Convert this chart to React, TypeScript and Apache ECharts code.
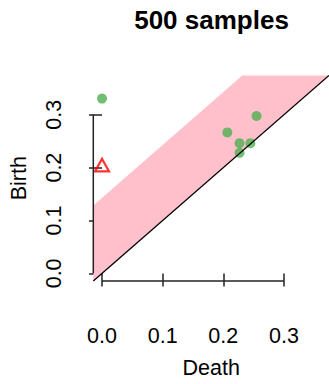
import React, { useEffect, useRef } from "react";
import * as echarts from "echarts";

// Axis range (R's 4% padding around [0, 0.36])
const AXIS_MIN = -0.0144;
const AXIS_MAX = 0.3744;
const tickValues = [0, 0.1, 0.2, 0.3];
const tickLabels = ["0.0", "0.1", "0.2", "0.3"];
const bandWidth = 0.143;

const greenDeath = [0.0, 0.2549, 0.2067, 0.2268, 0.2447, 0.2268];
const greenBirth = [0.3306, 0.2977, 0.2666, 0.2463, 0.2463, 0.228];
const redDeath = [0.0];
const redBirth = [0.201];

const titleText = "500 samples";
const xName = "Death";
const yName = "Birth";

const FONT = "'Liberation Sans', Arial, Helvetica, sans-serif";
const AXIS_COLOR = "#222";

export default function App() {
  const ref = useRef<HTMLDivElement>(null);
  useEffect(() => {
    if (!ref.current) return;
    const chart = echarts.init(ref.current, undefined, { renderer: "svg" });
    const fmt = (v: number) => {
      const i = tickValues.findIndex((t) => Math.abs(t - v) < 1e-9);
      return i >= 0 ? tickLabels[i] : String(v);
    };
    const labelStyle = { fontSize: 21.5, color: "#000", fontFamily: FONT };
    chart.setOption({
      animation: false,
      backgroundColor: "#fff",
      title: {
        text: titleText,
        left: 206.5,
        top: 1.8,
        textAlign: "center",
        textStyle: { fontSize: 26, fontWeight: "bold", color: "#000", fontFamily: FONT },
      },
      grid: { left: 92.5, top: 75.4, width: 238.8, height: 224.6, containLabel: false },
      xAxis: {
        type: "value",
        min: AXIS_MIN,
        max: AXIS_MAX,
        axisLine: { show: false },
        splitLine: { show: false },
        axisTick: { show: true, customValues: tickValues, length: 13, lineStyle: { color: AXIS_COLOR, width: 1.5 } },
        axisLabel: { customValues: tickValues, formatter: fmt, margin: 44, ...labelStyle },
        name: xName,
        nameLocation: "middle",
        nameGap: 76,
        nameTextStyle: labelStyle,
      },
      yAxis: {
        type: "value",
        min: AXIS_MIN,
        max: AXIS_MAX,
        axisLine: { show: false },
        splitLine: { show: false },
        axisTick: { show: true, customValues: tickValues, length: 13, lineStyle: { color: AXIS_COLOR, width: 1.5 } },
        axisLabel: { customValues: tickValues, formatter: fmt, margin: 28.4, rotate: 90, ...labelStyle },
        name: yName,
        nameLocation: "middle",
        nameGap: 63.3,
        nameTextStyle: labelStyle,
      },
      series: [
        {
          type: "custom",
          z: 1,
          data: [[AXIS_MIN, AXIS_MAX]],
          renderItem: (params: any, api: any) => {
            const x0 = api.value(0);
            const x1 = api.value(1);
            const pts = [
              api.coord([x0, x0]),
              api.coord([x1, x1]),
              api.coord([x1 - bandWidth, x1]),
              api.coord([x0, x0 + bandWidth]),
            ];
            return { type: "polygon", shape: { points: pts }, style: { fill: "#FFC0CB" } };
          },
        },
        {
          type: "custom",
          z: 5,
          clip: false,
          data: [[tickValues[0], tickValues[tickValues.length - 1]]],
          renderItem: (params: any, api: any) => {
            const a = api.value(0);
            const b = api.value(1);
            const p1 = api.coord([a, AXIS_MIN]);
            const p2 = api.coord([b, AXIS_MIN]);
            const q1 = api.coord([AXIS_MIN, a]);
            const q2 = api.coord([AXIS_MIN, b]);
            return {
              type: "group",
              children: [
                { type: "line", shape: { x1: p1[0], y1: p1[1], x2: p2[0], y2: p2[1] }, style: { stroke: AXIS_COLOR, lineWidth: 1.5 } },
                { type: "line", shape: { x1: q1[0], y1: q1[1], x2: q2[0], y2: q2[1] }, style: { stroke: AXIS_COLOR, lineWidth: 1.5 } },
              ],
            };
          },
        },
        {
          type: "scatter",
          z: 3,
          symbol: "circle",
          symbolSize: 10,
          itemStyle: { color: "#4CAF50" },
          data: greenDeath.map((d, i) => [d, greenBirth[i]]),
        },
        {
          type: "scatter",
          z: 3,
          symbol: "triangle",
          symbolSize: [14, 12.5],
          symbolOffset: [0, -2],
          itemStyle: { color: "rgba(0,0,0,0)", borderColor: "#FF0000", borderWidth: 2.2 },
          data: redDeath.map((d, i) => [d, redBirth[i]]),
        },
        {
          type: "line",
          z: 4,
          symbol: "none",
          lineStyle: { color: "#000", width: 1.3 },
          data: [
            [AXIS_MIN, AXIS_MIN],
            [AXIS_MAX, AXIS_MAX],
          ],
        },
      ],
    });
    return () => chart.dispose();
  }, []);
  return (
    <div
      ref={ref}
      style={{ position: "fixed", left: 0, top: 0, width: 329, height: 384 }}
    />
  );
}
